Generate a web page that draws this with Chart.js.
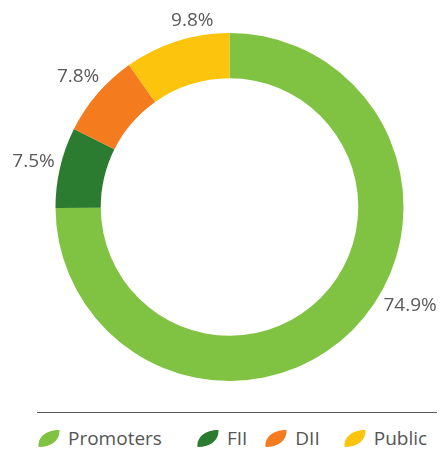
<!DOCTYPE html>
<html>
<head>
<meta charset="utf-8">
<script src="https://cdn.jsdelivr.net/npm/chart.js@4.4.1/dist/chart.umd.min.js"></script>
<style>
  html, body { margin: 0; padding: 0; background: #fff; }
  body { width: 448px; height: 451px; position: relative; overflow: hidden; font-family: "Open Sans", sans-serif; }
  #holdingChart { position: absolute; left: 0; top: 0; }
  #legend {
    position: absolute; left: 37px; top: 412px; width: 400px;
    border-top: 1.5px solid #5a5a5a;
  }
  #legend ul { list-style: none; margin: 12px 0 0 0; padding: 0; display: flex; align-items: center; height: 26px; }
  #legend li { display: flex; align-items: center; font-size: 19px; color: #555; }
  #legend li:nth-child(1) { margin-right: 34px; }
  #legend li:nth-child(2) { margin-right: 17px; }
  #legend li:nth-child(3) { margin-right: 23px; }
  #legend li svg { margin-right: 7px; }
</style>
</head>
<body>
<canvas id="holdingChart" width="448" height="391"></canvas>
<div id="legend"><ul></ul></div>
<script>
// shareholding pattern (%)
const holders = ['Promoters', 'FII', 'DII', 'Public'];
const shares = [74.9, 7.5, 7.8, 9.8];
const colours = ['#80c241', '#2b7b30', '#f57b1f', '#fcc40c'];

// where along each arc its percentage label sits (0 = start, 1 = end)
const labelAnchor = [0.44, 0.5, 0.5, 0.68];

// percentage labels just outside the ring
const sliceLabels = {
  id: 'sliceLabels',
  afterDatasetsDraw(chart, args, opts) {
    const ctx = chart.ctx;
    const meta = chart.getDatasetMeta(0);
    ctx.save();
    ctx.font = opts.font;
    ctx.fillStyle = opts.color;
    ctx.textAlign = 'center';
    ctx.textBaseline = 'middle';
    meta.data.forEach((arc, i) => {
      const p = arc.getProps(['x', 'y', 'startAngle', 'endAngle', 'outerRadius'], true);
      const a = p.startAngle + (p.endAngle - p.startAngle) * labelAnchor[i];
      const text = shares[i].toFixed(1) + '%';
      const w = ctx.measureText(text).width;
      const d = p.outerRadius + opts.gap + w / 2 * Math.abs(Math.cos(a)) + opts.textHeight / 2 * Math.abs(Math.sin(a));
      ctx.fillText(text, p.x + Math.cos(a) * d, p.y + Math.sin(a) * d);
    });
    ctx.restore();
  }
};

new Chart(document.getElementById('holdingChart'), {
  type: 'doughnut',
  data: {
    labels: holders,
    datasets: [{
      data: shares,
      backgroundColor: colours,
      borderWidth: 0
    }]
  },
  options: {
    responsive: false,
    animation: false,
    cutout: '74%',
    layout: { padding: { top: 33, bottom: 10, left: 30, right: 19 } },
    plugins: {
      legend: { display: false },
      tooltip: { enabled: false },
      sliceLabels: {
        font: '19px "Open Sans", sans-serif',
        color: '#5a5a5a',
        gap: 5,
        textHeight: 14
      }
    }
  },
  plugins: [sliceLabels]
});

// leaf-shaped legend markers
const list = document.querySelector('#legend ul');
holders.forEach((name, i) => {
  const li = document.createElement('li');
  li.innerHTML = `
    <svg width="24" height="19" viewBox="0 0 24 19">
      <path d="M1.5 18 C0.5 8 9 1 22.5 1 C23 11 15 18 1.5 18 Z" fill="${colours[i]}"/>
    </svg>
    <span>${name}</span>`;
  list.appendChild(li);
});
</script>
</body>
</html>
